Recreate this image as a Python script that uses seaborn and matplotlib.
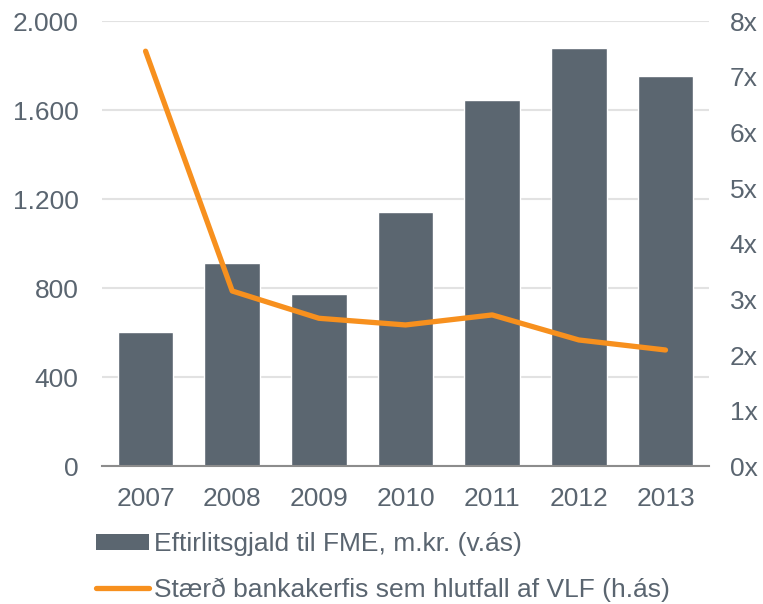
import numpy as np
import pandas as pd
import matplotlib.pyplot as plt
import seaborn as sns
from matplotlib.patches import Patch
from matplotlib.lines import Line2D
from matplotlib.ticker import FuncFormatter

years = ["2007", "2008", "2009", "2010", "2011", "2012", "2013"]
fees = [602, 912, 773, 1142, 1645, 1879, 1753]
bank_ratio = [7.46, 3.15, 2.66, 2.54, 2.72, 2.27, 2.09]
left_ticks = [0, 400, 800, 1200, 1600, 2000]
right_ticks = [0, 1, 2, 3, 4, 5, 6, 7, 8]
bar_label = "Eftirlitsgjald til FME, m.kr. (v.ás)"
line_label = "Stærð bankakerfis sem hlutfall af VLF (h.ás)"

bar_color = "#5b6670"
line_color = "#f7901e"
text_color = "#5a6570"

sns.set_style("white")
plt.rcParams["font.family"] = ["Liberation Sans", "DejaVu Sans"]
plt.rcParams["font.size"] = 19

df = pd.DataFrame({"year": years, "fee": fees, "ratio": bank_ratio, "pos": np.arange(len(years))})

fig = plt.figure(figsize=(7.63, 6.04), dpi=100)
ax = fig.add_axes([0.134, 0.228, 0.795, 0.737])

# bars on left axis
sns.barplot(data=df, x="year", y="fee", color=bar_color, saturation=1, width=0.64, ax=ax)
ax.set_ylim(0, 2000)
ax.set_xlim(-0.5, 6.5)
ax.set_yticks(left_ticks)
ax.yaxis.set_major_formatter(FuncFormatter(lambda v, p: f"{int(v):,}".replace(",", ".")))
ax.grid(axis="y", color="#e2e2e2", linewidth=1.5)
ax.set_axisbelow(True)
ax.set_xlabel("")
ax.set_ylabel("")
for s in ["top", "right", "left"]:
    ax.spines[s].set_visible(False)
ax.spines["bottom"].set_color("#8c8c8c")
ax.spines["bottom"].set_linewidth(1.5)
ax.tick_params(axis="y", length=0, pad=17, colors=text_color, labelsize=19)
ax.tick_params(axis="x", length=0, pad=15, colors=text_color, labelsize=19)

# line on right axis
ax2 = ax.twinx()
sns.lineplot(data=df, x="pos", y="ratio", color=line_color, linewidth=3.8, ax=ax2,
             solid_capstyle="round", legend=False)
ax2.set_ylim(0, 8)
ax2.set_yticks(right_ticks)
ax2.yaxis.set_major_formatter(FuncFormatter(lambda v, p: f"{int(v)}x"))
ax2.set_ylabel("")
ax2.set_xlim(-0.5, 6.5)
for s in ax2.spines.values():
    s.set_visible(False)
ax2.tick_params(axis="y", length=0, pad=15, colors=text_color, labelsize=19)

handles = [Patch(facecolor=bar_color, edgecolor="none"),
           Line2D([], [], color=line_color, linewidth=3.8, solid_capstyle="round")]
fig.legend(handles, [bar_label, line_label], loc="upper left",
           bbox_to_anchor=(0.126, 0.119), frameon=False,
           handlelength=2.0, handleheight=0.55, handletextpad=0.2, labelspacing=0.82,
           labelcolor=text_color, fontsize=19, borderaxespad=0, borderpad=0)

fig.savefig("out.png", dpi=100)
